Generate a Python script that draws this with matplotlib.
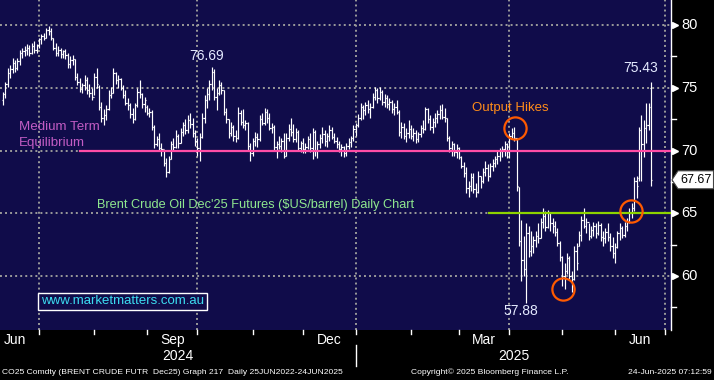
#!/usr/bin/env python3

import numpy as np
import pandas as pd
import matplotlib
matplotlib.use("Agg")
import matplotlib.pyplot as plt
from matplotlib import transforms
from matplotlib.patches import Polygon

# Brent Dec'25 daily bars, first bar 10-Jun-2024, last bar 23-Jun-2025
start_date = "2024-06-10"

opens = [
    74.0, 74.5, 75.3, 76.2, 76.5, 77.0, 76.6, 77.1, 77.8, 77.9,
    78.0, 78.2, 77.8, 78.3, 78.0, 78.4, 78.9, 79.1, 79.0, 79.6,
    79.5, 79.0, 78.2, 77.8, 78.0, 77.7, 77.9, 77.6, 76.9, 77.2,
    77.3, 75.9, 75.5, 74.9, 75.2, 75.6, 74.8, 74.6, 74.3, 75.9,
    75.1, 73.5, 72.6, 72.8, 73.3, 74.4, 74.6, 76.2, 75.6, 75.7,
    75.0, 74.4, 73.8, 73.6, 72.9, 72.5, 73.6, 74.7, 74.5, 73.7,
    73.5, 73.0, 73.1, 71.9, 70.5, 70.9, 70.2, 70.1, 69.0, 68.3,
    69.3, 70.5, 70.3, 71.2, 70.6, 71.5, 72.0, 71.6, 72.4, 72.1,
    71.4, 70.8, 70.2, 71.1, 72.6, 74.0, 74.5, 75.3, 76.3, 74.3,
    74.6, 75.2, 74.8, 73.1, 72.5, 71.4, 71.9, 71.2, 71.0, 73.0,
    72.3, 72.0, 72.2, 70.4, 69.8, 70.8, 71.1, 70.9, 72.5, 72.2,
    73.1, 72.6, 71.8, 71.9, 70.3, 70.5, 70.4, 70.8, 69.6, 71.0,
    71.7, 71.5, 70.9, 71.5, 70.2, 70.6, 70.1, 70.3, 70.9, 70.2,
    71.5, 70.0, 70.5, 71.0, 71.3, 70.8, 71.2, 71.6, 71.1, 70.8,
    70.5, 70.1, 70.3, 69.8, 70.4, 70.7, 71.0, 71.7, 72.0, 72.6,
    73.5, 73.2, 73.6, 73.3, 73.5, 74.3, 74.8, 74.2, 74.7, 73.9,
    74.2, 73.7, 73.9, 73.3, 73.5, 73.1, 71.5, 71.9, 71.2, 71.4,
    71.7, 71.2, 71.4, 70.9, 71.3, 71.8, 71.7, 73.3, 72.5, 71.9,
    72.3, 72.6, 72.9, 73.2, 72.7, 72.6, 71.0, 70.2, 70.5, 69.9,
    70.2, 69.5, 68.8, 68.2, 67.0, 67.2, 67.9, 66.9, 66.7, 68.0,
    67.6, 68.3, 68.6, 68.0, 68.8, 69.0, 69.3, 69.6, 70.0, 70.1,
    70.5, 70.0, 71.2, 71.4, 71.0, 67.1, 62.8, 61.3, 60.6, 63.4,
    62.0, 62.4, 62.9, 63.2, 63.0, 64.3, 64.8, 63.9, 65.0, 64.2,
    64.0, 63.5, 62.6, 61.5, 60.0, 60.4, 61.4, 60.0, 59.8, 62.0,
    62.4, 63.3, 64.5, 64.0, 64.3, 63.2, 63.7, 64.0, 63.4, 64.1,
    63.1, 63.0, 63.5, 63.1, 62.4, 61.8, 62.3, 63.4, 63.8, 63.3,
    64.0, 64.3, 65.0, 65.4, 67.6, 67.8, 71.6, 70.5, 71.8, 72.0, 75.0,
]

highs = [
    74.7, 75.5, 76.6, 76.8, 77.4, 77.2, 77.4, 78.0, 78.2, 78.3,
    78.5, 78.4, 78.6, 78.7, 78.5, 79.0, 79.3, 79.4, 79.8, 79.95,
    79.8, 79.0, 78.6, 78.3, 78.2, 78.0, 78.1, 77.8, 77.5, 77.6,
    77.3, 76.2, 75.8, 75.4, 76.0, 75.9, 75.3, 75.0, 76.2, 76.6,
    75.2, 73.9, 73.3, 73.6, 74.8, 75.1, 76.6, 76.3, 76.0, 75.8,
    75.2, 74.8, 74.2, 73.8, 73.4, 73.8, 75.0, 75.6, 74.6, 74.3,
    73.6, 73.4, 73.2, 72.0, 71.2, 71.4, 70.6, 70.0, 69.4, 69.6,
    70.8, 71.0, 71.6, 71.3, 71.8, 72.3, 72.5, 72.8, 73.0, 72.6,
    71.6, 71.0, 71.4, 73.0, 74.4, 75.0, 75.6, 76.69, 76.5, 75.0,
    75.6, 75.5, 74.8, 73.4, 72.5, 72.3, 72.0, 71.6, 73.5, 73.2,
    73.3, 72.4, 72.3, 70.6, 71.0, 71.5, 71.4, 72.8, 73.0, 73.4,
    73.3, 73.0, 72.2, 72.0, 70.8, 71.2, 71.0, 71.4, 71.4, 72.1,
    72.6, 72.1, 71.8, 71.6, 70.8, 71.0, 70.6, 71.2, 71.4, 71.8,
    71.6, 70.8, 71.3, 71.9, 71.6, 71.4, 72.0, 71.9, 71.4, 71.1,
    70.8, 70.5, 70.4, 70.6, 71.0, 71.2, 72.0, 72.2, 72.9, 73.8,
    73.6, 73.9, 74.0, 73.8, 74.6, 75.1, 75.0, 75.1, 74.8, 74.5,
    74.4, 74.2, 74.0, 73.8, 74.0, 73.2, 72.3, 72.2, 71.8, 72.4,
    72.0, 71.8, 71.6, 71.5, 72.0, 72.4, 73.5, 73.4, 72.8, 72.6,
    73.0, 73.2, 73.6, 73.7, 73.4, 72.6, 71.2, 70.8, 70.6, 70.5,
    70.3, 69.6, 69.1, 68.7, 67.6, 68.2, 68.2, 67.4, 68.4, 68.0,
    68.6, 69.2, 68.9, 69.0, 69.3, 69.6, 70.0, 70.2, 70.4, 70.8,
    70.6, 71.4, 71.8, 71.9, 71.0, 67.1, 64.5, 63.2, 64.2, 64.0,
    63.6, 63.2, 63.6, 64.2, 64.6, 65.4, 65.2, 65.3, 65.0, 64.6,
    64.4, 63.8, 62.8, 61.6, 61.0, 61.8, 61.6, 60.4, 62.4, 62.6,
    63.6, 64.8, 65.4, 64.6, 64.2, 64.0, 64.3, 64.2, 64.4, 64.2,
    63.6, 63.8, 64.2, 63.4, 63.1, 62.6, 63.6, 64.2, 64.0, 64.3,
    64.6, 65.4, 65.8, 67.9, 68.0, 71.9, 72.8, 72.4, 73.8, 73.8, 75.43,
]

lows = [
    73.6, 74.2, 75.1, 75.8, 76.2, 76.3, 76.4, 76.8, 77.4, 77.5,
    77.6, 77.5, 77.7, 77.8, 77.8, 78.2, 78.5, 78.8, 79.0, 79.2,
    78.8, 78.0, 77.5, 77.5, 77.4, 77.4, 77.3, 76.6, 76.6, 76.8,
    75.6, 75.2, 74.7, 74.6, 74.8, 74.5, 74.3, 74.0, 74.4, 75.0,
    73.2, 72.3, 72.0, 72.4, 73.2, 74.2, 74.6, 75.3, 75.0, 74.8,
    74.2, 73.6, 73.2, 72.6, 72.2, 72.4, 73.5, 74.2, 73.4, 73.1,
    72.8, 72.7, 71.6, 70.2, 70.4, 70.0, 69.6, 68.8, 67.9, 68.2,
    69.3, 70.0, 70.2, 70.2, 70.6, 71.2, 71.3, 71.4, 71.8, 71.1,
    70.4, 69.6, 69.2, 71.0, 72.2, 73.4, 74.0, 74.8, 74.0, 73.2,
    74.4, 74.5, 72.8, 72.2, 71.0, 71.2, 70.8, 70.7, 70.9, 72.0,
    71.8, 71.6, 70.0, 69.2, 69.6, 70.4, 70.3, 70.8, 72.0, 72.0,
    72.2, 71.6, 71.4, 70.0, 69.4, 70.1, 69.9, 69.4, 69.6, 70.8,
    71.2, 70.7, 70.7, 70.0, 69.9, 69.8, 69.8, 70.1, 69.9, 69.3,
    69.6, 69.4, 70.2, 70.6, 70.4, 70.3, 70.8, 70.9, 70.6, 70.2,
    69.9, 69.6, 69.5, 69.6, 70.1, 70.3, 70.8, 71.2, 71.9, 72.4,
    72.5, 72.8, 73.0, 72.6, 73.4, 74.0, 73.8, 74.0, 73.6, 73.5,
    73.4, 73.2, 73.0, 72.8, 72.9, 71.2, 71.0, 70.9, 70.7, 71.0,
    70.9, 70.8, 70.6, 70.7, 71.1, 71.4, 71.6, 72.2, 71.6, 71.4,
    71.9, 72.2, 72.5, 72.5, 72.3, 70.8, 69.9, 69.6, 69.6, 69.4,
    69.3, 68.6, 67.9, 66.6, 66.3, 66.8, 66.6, 66.3, 66.6, 67.0,
    67.4, 68.0, 67.6, 67.9, 68.4, 68.7, 68.9, 69.2, 69.5, 69.6,
    69.4, 69.4, 70.9, 70.8, 66.8, 62.4, 59.6, 60.0, 57.88, 61.5,
    61.6, 61.8, 62.3, 62.6, 63.0, 63.8, 63.6, 63.8, 63.6, 63.4,
    63.2, 62.4, 61.2, 59.2, 59.0, 60.2, 59.8, 58.7, 59.7, 60.5,
    62.4, 62.8, 63.8, 63.4, 62.9, 63.0, 63.2, 63.0, 63.3, 62.8,
    62.4, 62.6, 62.8, 62.0, 61.4, 61.0, 62.2, 62.9, 63.0, 63.1,
    63.6, 64.2, 64.6, 65.2, 66.2, 67.6, 67.6, 69.5, 70.6, 71.6, 67.2,
]

closes = [
    74.5, 75.3, 76.2, 76.5, 77.0, 76.6, 77.1, 77.8, 77.9, 78.0,
    78.2, 77.8, 78.3, 78.0, 78.4, 78.9, 79.1, 79.0, 79.6, 79.5,
    79.0, 78.2, 77.8, 78.0, 77.7, 77.9, 77.6, 76.9, 77.2, 77.3,
    75.9, 75.5, 74.9, 75.2, 75.6, 74.8, 74.6, 74.3, 75.9, 75.3,
    73.5, 72.6, 72.8, 73.3, 74.4, 74.6, 76.2, 75.6, 75.7, 75.0,
    74.4, 73.8, 73.6, 72.9, 72.5, 73.6, 74.7, 74.5, 73.7, 74.0,
    73.0, 73.1, 71.9, 70.5, 70.9, 70.2, 70.1, 69.0, 68.3, 69.3,
    70.5, 70.3, 71.2, 70.6, 71.5, 72.0, 71.6, 72.4, 72.1, 71.4,
    70.8, 70.2, 71.1, 72.6, 74.0, 74.5, 75.3, 76.3, 74.3, 74.6,
    75.2, 74.8, 73.1, 72.5, 71.4, 71.9, 71.2, 71.0, 73.0, 72.3,
    72.0, 72.2, 70.4, 69.8, 70.8, 71.1, 70.9, 72.5, 72.2, 73.1,
    72.6, 71.8, 71.9, 70.3, 70.5, 70.4, 70.8, 69.6, 71.0, 71.7,
    71.5, 70.9, 71.5, 70.2, 70.6, 70.1, 70.3, 70.9, 70.2, 71.5,
    70.0, 70.5, 71.0, 71.3, 70.8, 71.2, 71.6, 71.1, 70.8, 70.5,
    70.1, 70.3, 69.8, 70.4, 70.7, 71.0, 71.7, 72.0, 72.6, 73.5,
    73.2, 73.6, 73.3, 73.5, 74.3, 74.8, 74.2, 74.7, 73.9, 74.2,
    73.7, 73.9, 73.3, 73.5, 73.1, 71.5, 71.9, 71.2, 71.4, 71.7,
    71.2, 71.4, 70.9, 71.3, 71.8, 71.7, 73.3, 72.5, 71.9, 72.3,
    72.6, 72.9, 73.2, 72.7, 72.6, 71.0, 70.2, 70.5, 69.9, 70.2,
    69.5, 68.8, 68.2, 67.0, 67.2, 67.9, 66.9, 66.7, 68.0, 67.6,
    68.3, 68.6, 68.0, 68.8, 69.0, 69.3, 69.6, 70.0, 70.1, 70.5,
    70.0, 71.2, 71.4, 71.0, 67.2, 62.8, 61.3, 60.6, 63.4, 62.0,
    62.4, 62.9, 63.2, 63.0, 64.3, 64.8, 63.9, 65.0, 64.2, 64.0,
    63.5, 62.6, 61.5, 60.0, 60.4, 61.4, 60.0, 59.8, 62.0, 61.0,
    63.3, 64.5, 64.0, 64.3, 63.2, 63.7, 64.0, 63.4, 64.1, 63.1,
    63.0, 63.5, 63.1, 62.4, 61.8, 62.3, 63.4, 63.8, 63.3, 64.0,
    64.3, 65.0, 65.4, 67.6, 67.2, 71.6, 70.5, 71.8, 72.0, 73.5, 67.67,
]

y_ticks = [60, 65, 70, 75, 80]
y_minor = [57.5, 62.5, 67.5, 72.5, 77.5]
month_labels = ["Jun", "Sep", "Dec", "Mar", "Jun"]
month_label_starts = ["2024-06-01", "2024-09-01", "2024-12-01", "2025-03-01", "2025-06-01"]
grid_months = ["2024-07-01", "2024-10-01", "2025-01-01", "2025-04-01", "2025-07-01"]
years = ["2024", "2025"]

equilibrium = 70.0
support = 65.0
last_price = 67.67

BG = "#100c4a"
ARIAL = ["Liberation Sans", "DejaVu Sans"]

# trading day index, 0 = first bar
cal = pd.bdate_range("2024-05-01", "2025-08-29")
zero = cal.searchsorted(pd.Timestamp(start_date))


def pos(d):
    return cal.searchsorted(pd.Timestamp(d)) - zero


n = len(closes)
x = np.arange(n)

fig = plt.figure(figsize=(7.14, 3.8), dpi=100)
fig.patch.set_facecolor("black")
ax = fig.add_axes([0, 50 / 380, 671 / 714, 330 / 380])
ax.set_facecolor(BG)
ax.set_xlim(-1.25, 278.3)
ax.set_ylim(55.7, 82.0)
for s in ["top", "left", "bottom"]:
    ax.spines[s].set_visible(False)
ax.spines["right"].set_color("white")
ax.spines["right"].set_linewidth(1.0)
ax.set_xticks([])
ax.set_yticks([])

# dotted grid
grid_kw = dict(color="#9a9a9a", lw=1.4, ls=(0, (1, 1.6)), zorder=1)
for v in y_ticks:
    ax.axhline(v, **grid_kw)
for d in grid_months:
    ax.axvline(pos(d), **grid_kw)

# OHLC bars
bar_kw = dict(color="white", lw=0.85, zorder=3)
ax.vlines(x, lows, highs, **bar_kw)
ax.hlines(opens, x - 0.5, x, **bar_kw)
ax.hlines(closes, x, x + 0.5, **bar_kw)

# reference levels
ax.plot([32, 278.3], [equilibrium, equilibrium], color="#ff4da6", lw=1.6, zorder=4)
ax.plot([202.5, 278.3], [support, support], color="#8dd300", lw=1.6, zorder=4)

ax.text(6.7, 71.87, "Medium Term", color="#c25cc4", fontsize=9.6, family=ARIAL,
        va="center", ha="left", zorder=5)
ax.text(6.7, 70.6, "Equilibrium", color="#c25cc4", fontsize=9.6, family=ARIAL,
        va="center", ha="left", zorder=5)
ax.text(39.2, 65.66, "Brent Crude Oil Dec'25 Futures ($US/barrel) Daily Chart",
        color="#8fe88f", fontsize=9.2, family=ARIAL, va="center", ha="left", zorder=5)
ax.text(211.3, 73.4, "Output Hikes", color="#ff8c1a", fontsize=9.5, family=ARIAL,
        va="center", ha="center", zorder=5)

# orange circles
circle_pts = [(213.3, 71.79), (233.3, 58.96), (261.7, 65.18)]
for cx, cy in circle_pts:
    ax.plot(cx, cy, "o", ms=16, mfc="none", mec="#ff5a00", mew=1.6, zorder=6)

# high / low labels
val_kw = dict(color="#e4eaff", fontsize=10, family=ARIAL, ha="center", zorder=5)
ax.text(85.0, 76.95, "76.69", va="bottom", **val_kw)
ax.text(265.8, 76.0, "75.43", va="bottom", **val_kw)
ax.text(215.8, 57.75, "57.88", va="top", **val_kw)

ax.text(15.8, 58.0, "www.marketmatters.com.au", color="#3cdcf0", fontsize=9.5,
        family=ARIAL, va="center", ha="left", zorder=5,
        bbox=dict(boxstyle="square,pad=0.2", fc=BG, ec="white", lw=1.0))

# right price axis
ry = transforms.blended_transform_factory(fig.transFigure, ax.transData)
for v in y_ticks:
    fig.text(681 / 714, v, str(v), transform=ry, color="white", fontsize=10.5,
             family=ARIAL, va="center", ha="left")
    ax.plot([675 / 714], [v], ">", color="white", ms=5, transform=ry, clip_on=False)
for v in y_minor:
    ax.plot([671 / 714, 676 / 714], [v, v], color="white", lw=1.0, transform=ry,
            clip_on=False)

# last price tag
py = ax.transData.transform((0, last_price))[1] / fig.bbox.height
h = 9 / 380
tag = Polygon([(672 / 714, py), (678 / 714, py + h), (713.5 / 714, py + h),
               (713.5 / 714, py - h), (678 / 714, py - h)], closed=True,
              transform=fig.transFigure, fc="white", ec="#444444", lw=0.8)
fig.patches.append(tag)
fig.text(696 / 714, py, f"{last_price:.2f}", color="black", fontsize=9,
         family=ARIAL, va="center", ha="center")

# date axis
bx = transforms.blended_transform_factory(ax.transData, fig.transFigure)
month_starts = pd.date_range("2024-07-01", "2025-07-01", freq="MS")
for d in month_starts:
    p = pos(d)
    ax.plot([p, p], [50 / 380, 46 / 380], color="white", lw=1.0, transform=bx,
            clip_on=False)
for lab, d in zip(month_labels, month_label_starts):
    a = pos(d)
    b = pos(pd.Timestamp(d) + pd.offsets.MonthBegin(1))
    fig.text((a + b) / 2, 1 - 340 / 380, lab, transform=bx, color="white",
             fontsize=10, family=ARIAL, ha="center", va="center")

sep = pos("2025-01-01")
ax.plot([sep, sep], [1 - 345 / 380, 1 - 366 / 380], color="white", lw=1.0,
        transform=bx, clip_on=False)
fig.text((ax.get_xlim()[0] + sep) / 2, 1 - 356 / 380, years[0], transform=bx,
         color="white", fontsize=10, family=ARIAL, ha="center", va="center")
fig.text((sep + ax.get_xlim()[1]) / 2, 1 - 356 / 380, years[1], transform=bx,
         color="white", fontsize=10, family=ARIAL, ha="center", va="center")

# footer
foot_y = 1 - 372 / 380
fig.text(2 / 714, foot_y, "CO25 Comdty (BRENT CRUDE FUTR  Dec25) Graph 217  Daily 25JUN2022-24JUN2025",
         color="white", fontsize=6.1, family=ARIAL, ha="left", va="center")
fig.text(490 / 714, foot_y, "Copyright\u00a9 2025 Bloomberg Finance L.P.",
         color="white", fontsize=6.1, family=ARIAL, ha="center", va="center")
fig.text(712 / 714, foot_y, "24-Jun-2025 07:12:59", color="white", fontsize=6.1,
         family=ARIAL, ha="right", va="center")

fig.savefig("out.png", dpi=100, facecolor=fig.get_facecolor())
